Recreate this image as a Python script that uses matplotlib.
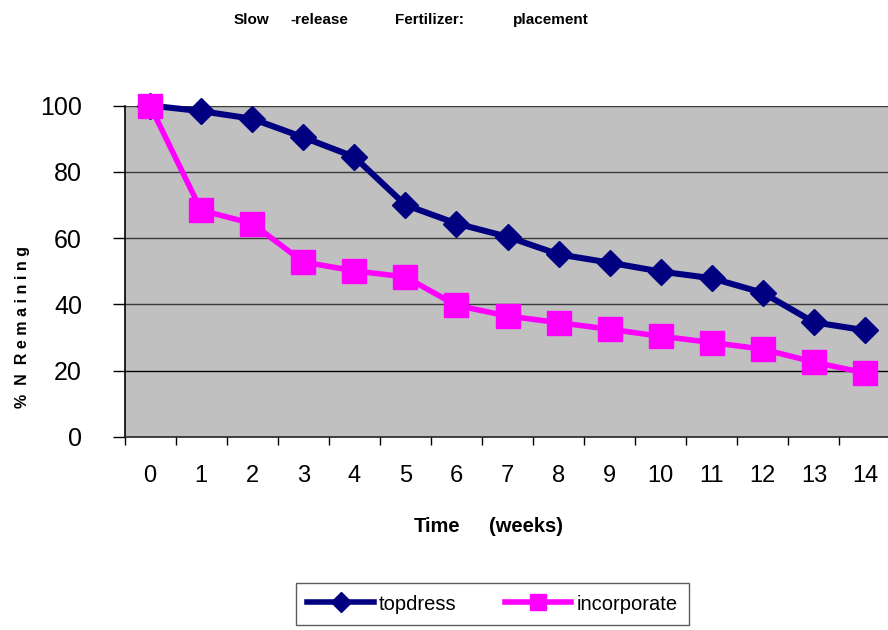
import matplotlib
matplotlib.use("Agg")
import matplotlib.pyplot as plt
from matplotlib.lines import Line2D

# Data: percentage of nitrogen remaining per week
weeks = list(range(15))
week_labels = [str(w) for w in weeks]
topdress = [100, 98.3, 96, 90.4, 84.5, 70, 64.4, 60.4, 55.1, 52.6, 49.9, 47.9, 43.5, 34.6, 32.2]
incorporate = [100, 68.4, 64.4, 52.8, 50.1, 48.3, 39.7, 36.5, 34.5, 32.5, 30.4, 28.5, 26.5, 22.6, 19.3]
y_ticks = [0, 20, 40, 60, 80, 100]
series_names = ["topdress", "incorporate"]
title_words = ["Slow", "-release", "Fertilizer:", "placement"]

FONT = ["Liberation Sans Narrow", "Arial Narrow", "Liberation Sans", "DejaVu Sans"]
plt.rcParams["font.family"] = FONT

W, H = 888, 630
fig = plt.figure(figsize=(W / 100, H / 100), dpi=100)

# plot area in pixel coordinates (right edge runs past the figure)
left_px, right_px, top_px, bottom_px = 124.5, 890.5, 105.5, 437.0
ax = fig.add_axes([left_px / W, 1 - bottom_px / H,
                   (right_px - left_px) / W, (bottom_px - top_px) / H])
ax.set_facecolor("#C0C0C0")

ax.set_xlim(-0.5, 14.5)
ax.set_ylim(0, 100)

# gridlines
for v in y_ticks[1:]:
    ax.axhline(v, color="#3a3a3a" if v != 20 else "#000000", lw=1.0, zorder=1)

navy = "#000080"
magenta = "#FF00FF"
ax.plot(weeks, topdress, color=navy, lw=4.4, marker="D", markersize=13.5,
        markerfacecolor=navy, markeredgecolor=navy, zorder=3, clip_on=False)
ax.plot(weeks, incorporate, color=magenta, lw=4.0, marker="s", markersize=17.5,
        markerfacecolor=magenta, markeredgecolor=magenta, zorder=4, clip_on=False)

# spines
for s in ["top", "right"]:
    ax.spines[s].set_visible(False)
ax.spines["left"].set_linewidth(1.2)
ax.spines["bottom"].set_linewidth(1.2)
ax.spines["left"].set_color("black")
ax.spines["bottom"].set_color("#222222")

# x axis: tick marks between categories, labels at categories
ax.set_xticks([w - 0.5 for w in weeks] + [14.5])
ax.set_xticklabels([])
ax.set_xticks(weeks, minor=True)
ax.set_xticklabels(week_labels, minor=True, fontsize=17)
ax.tick_params(axis="x", which="major", length=5.8, width=1.0, direction="out")
ax.tick_params(axis="x", which="minor", length=0, pad=20)

ax.set_yticks(y_ticks)
ax.set_yticklabels([str(v) for v in y_ticks], fontsize=18)
ax.tick_params(axis="y", length=8.6, width=1.0, direction="out", pad=22)

# title, drawn word by word
title_cx = [251.5, 319, 429, 550.5]
for word, x in zip(title_words, title_cx):
    fig.text(x / W, 1 - 20 / H, word, fontsize=11, fontweight="bold",
             ha="center", va="center")

# axis titles
fig.text(437.5 / W, 1 - 527 / H, "Time", fontsize=14.5, fontweight="bold",
         ha="center", va="center")
fig.text(526 / W, 1 - 527 / H, "(weeks)", fontsize=14.5, fontweight="bold",
         ha="center", va="center")
fig.text(23 / W, 1 - 327 / H, "%  N  R e m a i n i n g", fontsize=11.5,
         fontweight="bold", rotation=90, ha="center", va="center")

# legend
handles = [
    Line2D([], [], color=navy, lw=4.0, marker="D", markersize=10,
           markerfacecolor=navy, markeredgecolor=navy),
    Line2D([], [], color=magenta, lw=4.0, marker="s", markersize=12,
           markerfacecolor=magenta, markeredgecolor=magenta),
]
leg = fig.legend(handles, series_names, loc="center",
                 bbox_to_anchor=(492.5 / W, 1 - 604 / H), ncol=2,
                 fontsize=14.5, frameon=True, fancybox=False,
                 handlelength=3.3, handletextpad=0.25, columnspacing=2.4,
                 borderpad=0.55, borderaxespad=0)
leg.get_frame().set_edgecolor("#333333")
leg.get_frame().set_linewidth(1.0)

fig.savefig("out.png", dpi=100)
